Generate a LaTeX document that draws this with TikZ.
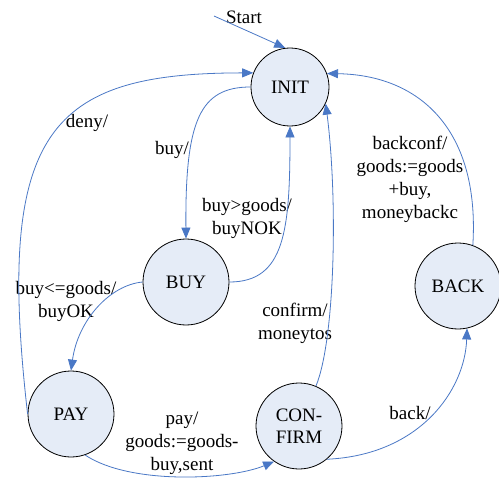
\documentclass[tikz,border=0pt]{standalone}
\usepackage{fontspec}
\setmainfont{Liberation Serif}
\usepackage{tikz}
\usetikzlibrary{arrows.meta}
\definecolor{wire}{HTML}{4A78C6}
\definecolor{statefill}{HTML}{E5ECF7}

\begin{document}
\begin{tikzpicture}[
  x=1pt,y=-1pt,
  state/.style={circle,draw=black,line width=0.8pt,fill=statefill,minimum size=86pt,
                inner sep=0pt,align=center,font=\fontsize{19}{22}\selectfont},
  lbl/.style={align=center,inner sep=0pt,font=\fontsize{19}{23}\selectfont},
  ar/.style={-{Triangle[length=11pt,width=9pt]},draw=wire,line width=0.8pt}
]
\useasboundingbox[fill=white] (0,0) rectangle (499,479);

\node[state,minimum size=78pt] (init) at (290,87) {INIT};
\node[state] (buy) at (186,282) {BUY};
\node[state] (pay) at (71,414) {PAY};
\node[state] (confirm) at (299,426) {CON-\\FIRM};
\node[state] (back) at (458,286) {BACK};

\coordinate (start) at (214,16);
\node[lbl] (lstart) at (244,17) {Start};
\node[lbl] (ldeny) at (87,123) {deny/};
\node[lbl] (lbuy) at (172,150) {buy/};
\node[lbl] (lnok) at (247,218) {buy>goods/\\buyNOK};
\node[lbl] (lok) at (66,301) {buy<=goods/\\buyOK};
\node[lbl] (lpay) at (182,443) {pay/\\goods:=goods-\\buy,sent};
\node[lbl] (lconf) at (295,323) {confirm/\\moneytos};
\node[lbl] (lback) at (410,413) {back/};
\node[lbl] (lbackconf) at (410,179) {backconf/\\goods:=goods\\+buy,\\moneybackc};

\draw[ar] (start) -- (init.97);
\draw[ar] (pay.west) .. controls (-5,130) and (50,73) .. (init.159);
\draw[ar] (init.west) .. controls (200,87) and (185,120) .. (buy.north);
\draw[ar] (buy.east) .. controls (285,282) and (290,230) .. (init.south);
\draw[ar] (buy.west) .. controls (110,285) and (78,320) .. (pay.north);
\draw[ar] (pay.-71) .. controls (130,485) and (230,480) .. (confirm.-125);
\draw[ar] (confirm.67) .. controls (335,340) and (338,200) .. (init.-25);
\draw[ar] (confirm.-50) .. controls (420,455) and (465,390) .. (back.-78);
\draw[ar] (back.70) .. controls (480,130) and (420,75) .. (init.20);
\end{tikzpicture}
\end{document}
